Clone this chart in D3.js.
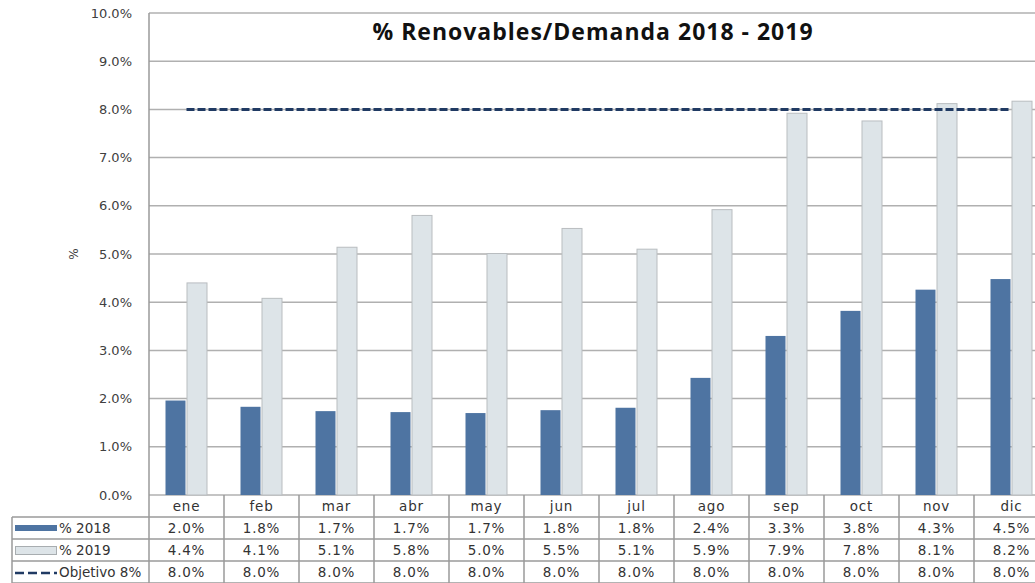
<!DOCTYPE html>
<html>
<head>
<meta charset="utf-8">
<script src="https://cdn.jsdelivr.net/npm/d3@7"></script>
<style>
  body { margin: 0; background: #fff; }
  svg { display: block; }
</style>
</head>
<body>
<script>
// data
var months = ["ene", "feb", "mar", "abr", "may", "jun", "jul", "ago", "sep", "oct", "nov", "dic"];
var pct2018 = [1.96, 1.83, 1.74, 1.72, 1.70, 1.76, 1.81, 2.43, 3.30, 3.82, 4.26, 4.48];
var pct2019 = [4.40, 4.08, 5.14, 5.80, 5.01, 5.53, 5.10, 5.92, 7.92, 7.76, 8.12, 8.17];
var objetivo = [8, 8, 8, 8, 8, 8, 8, 8, 8, 8, 8, 8];
var seriesNames = ["% 2018", "% 2019", "Objetivo 8%"];
var yTicks = [0, 1, 2, 3, 4, 5, 6, 7, 8, 9, 10];

var W = 1035, H = 583;
var plotLeft = 149, plotTop = 13, plotBottom = 495;
var step = 75;
var rowH = [22, 22, 22, 22]; // header + 3 series rows

var svg = d3.select("body").append("svg")
    .attr("width", W)
    .attr("height", H);

var x = d3.scaleBand()
    .domain(months)
    .range([plotLeft, plotLeft + step * months.length])
    .padding(0);

var xs = d3.scaleBand()
    .domain(["a", "b"])
    .range([16.5, 58.5])
    .padding(0);

var y = d3.scaleLinear()
    .domain([0, 10])
    .range([plotBottom, plotTop]);

var fmt = function(v) { return d3.format(".1f")(v) + "%"; };
var gridCol = "#b0b0b0";
var font = "'DejaVu Sans', Verdana, sans-serif";

// gridlines
svg.append("g").selectAll("line").data(yTicks)
  .enter().append("line")
    .attr("x1", plotLeft).attr("x2", W)
    .attr("y1", function(d) { return y(d); })
    .attr("y2", function(d) { return y(d); })
    .attr("stroke", gridCol)
    .attr("stroke-width", 1.5);

// y axis labels
var yAxis = svg.append("g")
    .attr("transform", "translate(" + plotLeft + ",0)")
    .call(d3.axisLeft(y).tickValues(yTicks).tickFormat(fmt).tickSize(0).tickPadding(17));
yAxis.select(".domain").remove();
yAxis.selectAll("text")
    .attr("font-family", font)
    .attr("font-size", 13)
    .attr("fill", "#404040");

svg.append("text")
    .attr("transform", "translate(78,254) rotate(-90)")
    .attr("text-anchor", "middle")
    .attr("font-family", font)
    .attr("font-size", 12)
    .attr("fill", "#404040")
    .text("%");

// bars
var bars = svg.append("g");
bars.selectAll(".b18").data(pct2018)
  .enter().append("rect")
    .attr("class", "b18")
    .attr("x", function(d, i) { return x(months[i]) + xs("a"); })
    .attr("width", xs.bandwidth() - 1)
    .attr("y", function(d) { return y(d); })
    .attr("height", function(d) { return plotBottom - y(d); })
    .attr("fill", "#4e74a2");

bars.selectAll(".b19").data(pct2019)
  .enter().append("rect")
    .attr("class", "b19")
    .attr("x", function(d, i) { return x(months[i]) + xs("b") + 0.5; })
    .attr("width", xs.bandwidth() - 1)
    .attr("y", function(d) { return y(d); })
    .attr("height", function(d) { return plotBottom - y(d); })
    .attr("fill", "#dde4e8")
    .attr("stroke", "#b9bdc0")
    .attr("stroke-width", 1);

// objective line
var line = d3.line()
    .x(function(d, i) { return x(months[i]) + x.bandwidth() / 2; })
    .y(function(d) { return y(d); });

svg.append("path")
    .datum(objetivo)
    .attr("d", line)
    .attr("fill", "none")
    .attr("stroke", "#203a63")
    .attr("stroke-width", 3)
    .attr("stroke-dasharray", "8,3");

// left axis line
svg.append("line")
    .attr("x1", plotLeft).attr("x2", plotLeft)
    .attr("y1", plotTop).attr("y2", H)
    .attr("stroke", "#9a9a9a")
    .attr("stroke-width", 1.5);

// title
svg.append("text")
    .attr("x", 593)
    .attr("y", 40)
    .attr("text-anchor", "middle")
    .attr("font-family", "'Open Sans', sans-serif")
    .attr("font-weight", 700)
    .attr("font-size", 23)
    .attr("letter-spacing", 1)
    .attr("fill", "#111")
    .text("% Renovables/Demanda 2018 - 2019");

////////////////////////////////////////////////////////////////////////////////
// data table under the chart
var table = svg.append("g");
var tableCol = "#9a9a9a";
var rowY = [plotBottom];
for (var r = 0; r < rowH.length; r++) rowY.push(rowY[r] + rowH[r]);

// horizontal lines
table.selectAll(".hl").data(rowY.slice(1))
  .enter().append("line")
    .attr("x1", 12).attr("x2", W)
    .attr("y1", function(d) { return d; })
    .attr("y2", function(d) { return d; })
    .attr("stroke", tableCol)
    .attr("stroke-width", 1.5);

// vertical lines at band edges
table.selectAll(".vl").data(months)
  .enter().append("line")
    .attr("x1", function(d) { return x(d) + step; })
    .attr("x2", function(d) { return x(d) + step; })
    .attr("y1", plotBottom).attr("y2", H)
    .attr("stroke", tableCol)
    .attr("stroke-width", 1.5);

table.append("line")
    .attr("x1", 12).attr("x2", 12)
    .attr("y1", rowY[1]).attr("y2", H)
    .attr("stroke", tableCol)
    .attr("stroke-width", 1.5);

// month labels
table.selectAll(".ml").data(months)
  .enter().append("text")
    .attr("x", function(d) { return x(d) + step / 2; })
    .attr("y", rowY[0] + 15.5)
    .attr("text-anchor", "middle")
    .attr("font-family", font)
    .attr("font-size", 13.5)
    .attr("letter-spacing", 0.8)
    .attr("fill", "#333")
    .text(function(d) { return d; });

// value rows
[pct2018, pct2019, objetivo].forEach(function(vals, k) {
    table.selectAll(".r" + k).data(vals)
      .enter().append("text")
        .attr("x", function(d, i) { return x(months[i]) + step / 2; })
        .attr("y", rowY[k + 1] + 16)
        .attr("text-anchor", "middle")
        .attr("font-family", font)
        .attr("font-size", 13.5)
        .attr("letter-spacing", 0.8)
        .attr("fill", "#333")
        .text(fmt);
});

// legend keys
table.append("rect")
    .attr("x", 15).attr("y", rowY[1] + 8)
    .attr("width", 42).attr("height", 6)
    .attr("fill", "#4e74a2");
table.append("rect")
    .attr("x", 15.5).attr("y", rowY[2] + 7.5)
    .attr("width", 41).attr("height", 8)
    .attr("fill", "#dde4e8")
    .attr("stroke", "#a8adb0");
table.append("line")
    .attr("x1", 15).attr("x2", 57)
    .attr("y1", rowY[3] + 12).attr("y2", rowY[3] + 12)
    .attr("stroke", "#203a63")
    .attr("stroke-width", 2.5)
    .attr("stroke-dasharray", "9,4");

table.selectAll(".lg").data(seriesNames)
  .enter().append("text")
    .attr("x", 59)
    .attr("y", function(d, i) { return rowY[i + 1] + 16; })
    .attr("font-family", font)
    .attr("font-size", 13.5)
    .attr("fill", "#333")
    .text(function(d) { return d; });
</script>
</body>
</html>
